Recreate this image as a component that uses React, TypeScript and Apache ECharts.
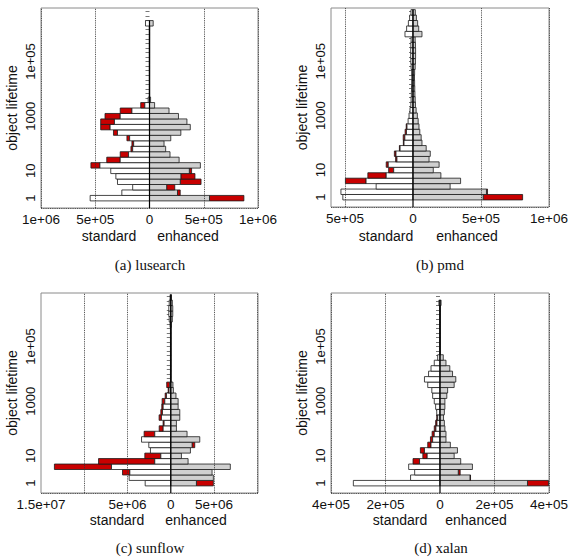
import React, { useEffect, useRef } from "react";
import * as echarts from "echarts";

const BIN = 0.2; // decades of lifetime per histogram bin
const Y_MIN = -0.36;
const Y_MAX = 6.96;
const RED = "#c80000";
const GRAY = "#d0d0d0";
const SANS = "'Liberation Sans', Arial, Helvetica, sans-serif";
const SERIF = "'Liberation Serif', 'Times New Roman', serif";

const yLabelValues = [0, 1, 3, 5];
const yLabelTexts = ["1", "10", "1000", "1e+05"];

// (a) lusearch
const lusearchStdWhite = [5.47e5, 2.55e5, 1.55e5, 2.95e5, 3.1e5, 3.57e5, 4.57e5, 2.7e5, 1.93e5, 1.55e5, 1.46e5, 1.83e5, 2.95e5, 3.63e5, 3.23e5, 2.7e5, 1.62e5, 4.3e4, 1.2e4, 2e3, 2e3, 2e3, 2e3, 2e3, 2e3, 2e3, 2e3, 2e3, 2e3, 2e3, 2e3, 2e3, 3.7e4];
const lusearchStdRed = [0, 0, 0, 0, 0, 0, 8.3e4, 1.24e5, 7.7e4, 1.6e4, 1.6e4, 2.5e4, 3.7e4, 8.7e4, 1.27e5, 1.4e5, 1.08e5, 3.8e4, 0, 0, 0, 0, 0, 0, 0, 0, 0, 0, 0, 0, 0, 0, 0];
const lusearchEnhGray = [5.53e5, 2.58e5, 1.58e5, 2.83e5, 2.89e5, 3.67e5, 4.69e5, 2.73e5, 1.89e5, 1.49e5, 1.34e5, 1.96e5, 2.89e5, 3.76e5, 3.45e5, 2.67e5, 1.8e5, 4.7e4, 1.0e4, 2e3, 2e3, 2e3, 2e3, 2e3, 2e3, 2e3, 2e3, 2e3, 2e3, 2e3, 2e3, 2e3, 3.4e4];
const lusearchEnhRed = [3.17e5, 2.5e4, 7.5e4, 1.92e5, 1.3e5, 2.1e4, 0, 0, 0, 0, 0, 0, 0, 0, 0, 0, 0, 0, 0, 0, 0, 0, 0, 0, 0, 0, 0, 0, 0, 0, 0, 0, 0];
const lusearchTicks = [-1e6, -5e5, 0, 5e5, 1e6];
const lusearchTickLabels = ["1e+06", "5e+05", "0", "5e+05", "1e+06"];
const lusearchGuides = [-1e6, -5e5, 5e5, 1e6];

// (b) pmd
const pmdStdWhite = [5.16e5, 5.3e5, 2.71e5, 3.45e5, 1.97e5, 1.42e5, 1.82e5, 1.18e5, 1.25e5, 9.5e4, 6.6e4, 6.0e4, 4.8e4, 4.4e4, 3.6e4, 2.9e4, 2.2e4, 1.6e4, 1.4e4, 1.2e4, 1.1e4, 1.0e4, 9e3, 1.0e4, 1.4e4, 1.6e4, 1.7e4, 1.7e4, 1.6e4, 1.4e4, 5.9e4, 4.7e4, 3.4e4, 2.5e4, 1.5e4];
const pmdStdRed = [0, 0, 0, 1.52e5, 1.35e5, 3.7e4, 1.5e4, 1.0e4, 1.2e4, 5e3, 5e3, 1.2e4, 1.0e4, 6e3, 0, 0, 0, 0, 0, 0, 0, 0, 0, 0, 0, 0, 0, 0, 0, 0, 0, 0, 0, 0, 0];
const pmdEnhGray = [5.16e5, 5.4e5, 2.73e5, 3.5e5, 2.05e5, 1.49e5, 1.92e5, 1.18e5, 1.27e5, 9.7e4, 6.6e4, 6.0e4, 5.0e4, 4.4e4, 3.8e4, 3.2e4, 2.3e4, 1.8e4, 1.6e4, 1.4e4, 1.3e4, 1.2e4, 1.1e4, 1.2e4, 1.6e4, 1.8e4, 1.9e4, 1.9e4, 1.8e4, 1.6e4, 6.6e4, 4.2e4, 3.4e4, 2.5e4, 1.7e4];
const pmdEnhRed = [2.9e5, 8e3, 0, 0, 0, 0, 0, 0, 0, 0, 0, 0, 0, 0, 0, 0, 0, 0, 0, 0, 0, 0, 0, 0, 0, 0, 0, 0, 0, 0, 0, 0, 0, 0, 0];
const pmdTicks = [-5e5, 0, 5e5, 1e6];
const pmdTickLabels = ["5e+05", "0", "5e+05", "1e+06"];
const pmdGuides = [-5e5, 5e5, 1e6];

// (c) sunflow
const sunflowStdWhite = [2.96e6, 4.81e6, 4.73e6, 6.85e6, 1.85e6, 1.15e6, 2.35e6, 2.54e6, 3.38e6, 1.85e6, 8.8e5, 7.7e5, 1.08e6, 9.6e5, 8.8e5, 6.9e5, 5.0e5, 2.0e5, 1.2e5, 4e4, 4e4, 4e4, 4e4, 4e4, 4e4, 4e4, 4e4, 4e4, 4e4, 8e4, 1.8e5, 2.3e5, 2.3e5, 1.8e5, 8e4];
const sunflowStdRed = [0, 0, 8.5e5, 6.6e6, 6.5e6, 1.85e6, 0, 0, 0, 1.23e6, 4.6e5, 1.2e5, 2.7e5, 1.9e5, 1.6e5, 3.1e5, 1.5e5, 1.0e5, 3.5e5, 0, 0, 0, 0, 0, 0, 0, 0, 0, 0, 0, 0, 0, 0, 0, 0];
const sunflowEnhGray = [2.96e6, 4.92e6, 4.77e6, 6.88e6, 2.0e6, 1.23e6, 2.27e6, 2.46e6, 3.35e6, 1.88e6, 6.5e5, 6.5e5, 1.04e6, 1.04e6, 8.5e5, 8.5e5, 6.0e5, 3.0e5, 2.5e5, 4e4, 4e4, 4e4, 4e4, 4e4, 4e4, 4e4, 4e4, 4e4, 4e4, 8e4, 1.8e5, 2.3e5, 2.3e5, 1.8e5, 8e4];
const sunflowEnhRed = [1.96e6, 0, 0, 0, 0, 0, 0, 3.1e5, 0, 0, 0, 0, 0, 0, 0, 0, 0, 0, 0, 0, 0, 0, 0, 0, 0, 0, 0, 0, 0, 0, 0, 0, 0, 0, 0];
const sunflowTicks = [-1.5e7, -5e6, 0, 5e6];
const sunflowTickLabels = ["1.5e+07", "5e+06", "0", "5e+06"];
const sunflowGuides = [-1e7, -5e6, 5e6, 1e7];

// (d) xalan
const xalanStdWhite = [3.18e5, 1.08e5, 9.3e4, 1.15e5, 7.5e4, 4.7e4, 5.7e4, 3.3e4, 2.7e4, 2.1e4, 1.5e4, 1.1e4, 8.5e3, 1.2e4, 1.6e4, 2.1e4, 2.7e4, 3.0e4, 4.5e4, 5.7e4, 4.2e4, 3.3e4, 2.1e4, 8.5e3, 1e3, 1e3, 1e3, 1e3, 1e3, 1e3, 1e3, 1e3, 1e3, 4e3];
const xalanStdRed = [0, 0, 0, 0, 2.4e4, 1.6e4, 1.5e4, 1.2e4, 8e3, 8e3, 6e3, 5e3, 3.5e3, 0, 0, 0, 0, 0, 0, 0, 0, 0, 0, 0, 0, 0, 0, 0, 0, 0, 0, 0, 0, 0];
const xalanEnhGray = [3.21e5, 1.1e5, 6.7e4, 1.19e5, 7.6e4, 5.2e4, 6.4e4, 3.8e4, 2.2e4, 2.2e4, 1.8e4, 1.6e4, 1.3e4, 1.6e4, 1.8e4, 1.8e4, 2.5e4, 2.8e4, 5.2e4, 5.8e4, 4.6e4, 3.6e4, 2.2e4, 1.2e4, 1e3, 1e3, 1e3, 1e3, 1e3, 1e3, 1e3, 1e3, 1e3, 4e3];
const xalanEnhRed = [7.7e4, 2e3, 7e3, 0, 0, 0, 0, 0, 0, 0, 0, 0, 0, 0, 0, 0, 0, 0, 0, 0, 0, 0, 0, 0, 0, 0, 0, 0, 0, 0, 0, 0, 0, 0];
const xalanTicks = [-4e5, -2e5, 0, 2e5, 4e5];
const xalanTickLabels = ["4e+05", "2e+05", "0", "2e+05", "4e+05"];
const xalanGuides = [-4e5, -2e5, 2e5, 4e5];

const panels = [
  { caption: "(a) lusearch", sw: lusearchStdWhite, sr: lusearchStdRed, eg: lusearchEnhGray, er: lusearchEnhRed, xMin: -1e6, xMax: 1e6, ticks: lusearchTicks, tickLabels: lusearchTickLabels, guides: lusearchGuides,
    grid: { left: 41, top: 8, width: 217, height: 200 }, stdX: 109, enhX: 188, subY: 236, capX: 150, capY: 265 },
  { caption: "(b) pmd", sw: pmdStdWhite, sr: pmdStdRed, eg: pmdEnhGray, er: pmdEnhRed, xMin: -6.03e5, xMax: 1e6, ticks: pmdTicks, tickLabels: pmdTickLabels, guides: pmdGuides,
    grid: { left: 331, top: 8, width: 218, height: 199 }, stdX: 386, enhX: 467, subY: 236, capX: 440, capY: 265 },
  { caption: "(c) sunflow", sw: sunflowStdWhite, sr: sunflowStdRed, eg: sunflowEnhGray, er: sunflowEnhRed, xMin: -1.5e7, xMax: 1.008e7, ticks: sunflowTicks, tickLabels: sunflowTickLabels, guides: sunflowGuides,
    grid: { left: 41, top: 293, width: 217, height: 200 }, stdX: 117, enhX: 196, subY: 520, capX: 150, capY: 548 },
  { caption: "(d) xalan", sw: xalanStdWhite, sr: xalanStdRed, eg: xalanEnhGray, er: xalanEnhRed, xMin: -4e5, xMax: 4e5, ticks: xalanTicks, tickLabels: xalanTickLabels, guides: xalanGuides,
    grid: { left: 331, top: 293, width: 218, height: 200 }, stdX: 400, enhX: 476, subY: 520, capX: 441, capY: 548 },
];

const yTickValues: number[] = [];
for (let i = 0; i <= 41; i++) yTickValues.push(i / 6);

function renderBars(_params: any, api: any) {
  const k = api.value(0) as number;
  const main = api.value(1) as number;
  const tot = api.value(2) as number;
  const kind = api.value(3) as number;
  const yc = k * BIN;
  const top = api.coord([0, yc + BIN / 2]);
  const bot = api.coord([0, yc - BIN / 2]);
  const x0 = top[0];
  const xm = api.coord([main, yc])[0];
  const xt = api.coord([tot, yc])[0];
  const h = bot[1] - top[1];
  const stroke = { stroke: "#1a1a1a", lineWidth: 0.8 };
  const children: any[] = [];
  if (tot !== main) {
    children.push({ type: "rect", shape: { x: Math.min(xm, xt), y: top[1], width: Math.abs(xt - xm), height: h }, style: { fill: RED, ...stroke } });
  }
  children.push({ type: "rect", shape: { x: Math.min(x0, xm), y: top[1], width: Math.abs(xm - x0), height: h }, style: { fill: kind === 0 ? "#ffffff" : GRAY, ...stroke } });
  return { type: "group", children };
}

export default function App() {
  const ref = useRef<HTMLDivElement>(null);
  useEffect(() => {
    if (!ref.current) return;
    const chart = echarts.init(ref.current, undefined, { renderer: "svg" });
    const grid: any[] = [];
    const xAxis: any[] = [];
    const yAxis: any[] = [];
    const series: any[] = [];
    const graphic: any[] = [];
    panels.forEach((p, i) => {
      grid.push({ ...p.grid, show: true, borderColor: "#8a8a8a", borderWidth: 1, backgroundColor: "transparent" });
      xAxis.push({
        type: "value", gridIndex: i, min: p.xMin, max: p.xMax,
        axisLine: { show: false }, axisTick: { show: false }, splitLine: { show: false },
        axisLabel: {
          customValues: p.ticks, margin: 4, fontSize: 13.5, color: "#111", fontFamily: SANS,
          formatter: (v: number) => p.tickLabels[p.ticks.indexOf(v)] ?? "",
        },
      });
      yAxis.push({
        type: "value", gridIndex: i, min: Y_MIN, max: Y_MAX,
        axisLine: { show: false }, splitLine: { show: false },
        axisTick: { show: true, length: 4, customValues: yTickValues, lineStyle: { color: "#555", width: 0.8 } },
        axisLabel: {
          customValues: yLabelValues, rotate: 90, margin: 4, fontSize: 13, color: "#111", fontFamily: SANS,
          formatter: (v: number) => yLabelTexts[yLabelValues.indexOf(v)] ?? "",
        },
        name: "object lifetime", nameLocation: "middle", nameRotate: 90, nameGap: 22,
        nameTextStyle: { fontSize: 14, color: "#111", fontFamily: SANS },
      });
      const data: number[][] = [];
      p.sw.forEach((w, k) => {
        data.push([k, -w, -(w + p.sr[k]), 0]);
        data.push([k, p.eg[k], p.eg[k] + p.er[k], 1]);
      });
      series.push({
        type: "line", xAxisIndex: i, yAxisIndex: i, z: 1, silent: true, symbol: "none",
        data: [[0, Y_MIN]], lineStyle: { width: 0 },
        markLine: {
          silent: true, symbol: "none", label: { show: false },
          lineStyle: { type: "dotted", color: "#333", width: 0.9 },
          data: [...p.guides.map((g) => ({ xAxis: g })), { yAxis: Y_MIN }],
        },
      });
      series.push({
        type: "custom", xAxisIndex: i, yAxisIndex: i, z: 2, silent: true,
        renderItem: renderBars, data, encode: { x: [1, 2], y: 0 },
      });
      series.push({
        type: "line", xAxisIndex: i, yAxisIndex: i, z: 3, silent: true, symbol: "none",
        data: [[0, Y_MIN], [0, (p.sw.length - 1) * BIN + BIN / 2]],
        lineStyle: { color: "#000", width: 1.2 },
      });
      graphic.push({ type: "text", x: p.stdX, y: p.subY, style: { text: "standard", fontSize: 14, fontFamily: SANS, fill: "#111", align: "center", verticalAlign: "middle" } });
      graphic.push({ type: "text", x: p.enhX, y: p.subY, style: { text: "enhanced", fontSize: 14, fontFamily: SANS, fill: "#111", align: "center", verticalAlign: "middle" } });
      graphic.push({ type: "text", x: p.capX, y: p.capY, style: { text: p.caption, fontSize: 15, fontFamily: SERIF, fill: "#111", align: "center", verticalAlign: "middle" } });
    });
    chart.setOption({ animation: false, backgroundColor: "#ffffff", grid, xAxis, yAxis, series, graphic });
    return () => chart.dispose();
  }, []);
  return <div ref={ref} style={{ position: "fixed", left: 0, top: 0, width: 577, height: 560, background: "#fff" }} />;
}
